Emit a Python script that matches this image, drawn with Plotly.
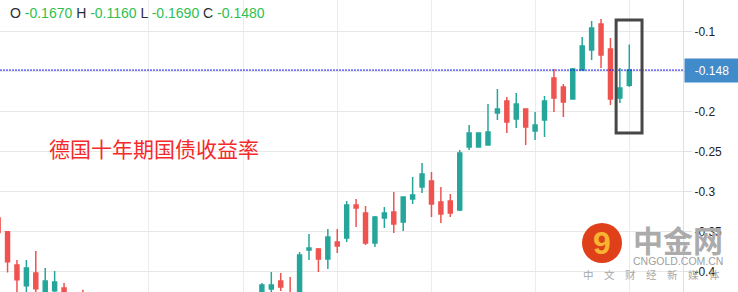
import plotly.graph_objects as go

# ---------------- data ----------------
idx = list(range(68))
opens = [-0.333, -0.350, -0.3916, -0.4175, -0.4016, -0.432, -0.4238, -0.4204, -0.436, -0.428,
         -0.440, -0.448, -0.455, -0.466, -0.458, -0.476, -0.485, -0.478, -0.496, -0.490,
         -0.480, -0.486, -0.472, -0.462, -0.470, -0.452, -0.445, -0.450,
         -0.436, -0.4216, -0.4116, -0.428, -0.435, -0.3729, -0.3716, -0.3841, -0.3629, -0.3579,
         -0.3166, -0.3266, -0.3641, -0.3329, -0.3254, -0.3379, -0.3091, -0.2941, -0.2866, -0.3129,
         -0.3116, -0.3229, -0.2441, -0.2441, -0.2416, -0.2016, -0.1866, -0.2091, -0.1966, -0.2241,
         -0.2104, -0.1579, -0.1691, -0.1841, -0.1479, -0.1229, -0.0904, -0.1216, -0.1829, -0.167]
highs = [-0.330, -0.350, -0.3854, -0.3854, -0.3741, -0.3954, -0.3991, -0.4141, -0.428, -0.4225,
         -0.432, -0.438, -0.445, -0.452, -0.450, -0.466, -0.470, -0.468, -0.484, -0.476,
         -0.470, -0.468, -0.458, -0.452, -0.448, -0.440, -0.436, -0.430,
         -0.4141, -0.4004, -0.4016, -0.4066, -0.3754, -0.3529, -0.3704, -0.3466, -0.3466, -0.3116,
         -0.3091, -0.3179, -0.3304, -0.3191, -0.3004, -0.3066, -0.2816, -0.2641, -0.2754, -0.2941,
         -0.3029, -0.2479, -0.2166, -0.2266, -0.1904, -0.1716, -0.1816, -0.1766, -0.1966, -0.2004,
         -0.1804, -0.1466, -0.1654, -0.1454, -0.1066, -0.0866, -0.0841, -0.1079, -0.1454, -0.116]
lows = [-0.356, -0.401, -0.432, -0.432, -0.426, -0.440, -0.430, -0.440, -0.446, -0.450,
        -0.452, -0.460, -0.470, -0.474, -0.480, -0.490, -0.494, -0.500, -0.508, -0.498,
        -0.492, -0.490, -0.480, -0.476, -0.472, -0.462, -0.456, -0.452,
        -0.440, -0.432, -0.4241, -0.445, -0.440, -0.3854, -0.4004, -0.3966, -0.3766, -0.3629,
        -0.3441, -0.3666, -0.3691, -0.3454, -0.3516, -0.3491, -0.3154, -0.3016, -0.3316, -0.3391,
        -0.3316, -0.3240, -0.2479, -0.2441, -0.2416, -0.2104, -0.2266, -0.2204, -0.2416, -0.2354,
        -0.2316, -0.2004, -0.2066, -0.1841, -0.1479, -0.1354, -0.1454, -0.1916, -0.1891, -0.169]
closes = [-0.351, -0.3875, -0.410, -0.3954, -0.4213, -0.4116, -0.4129, -0.435, -0.440, -0.440,
          -0.448, -0.455, -0.466, -0.458, -0.476, -0.485, -0.478, -0.496, -0.490, -0.480,
          -0.486, -0.472, -0.462, -0.470, -0.452, -0.445, -0.450, -0.436,
          -0.4166, -0.4166, -0.4191, -0.440, -0.3791, -0.3704, -0.3841, -0.3566, -0.3679, -0.3166,
          -0.3204, -0.3641, -0.3316, -0.3266, -0.3404, -0.3066, -0.3041, -0.2779, -0.3154, -0.3279,
          -0.3266, -0.2516, -0.2266, -0.2266, -0.2254, -0.1966, -0.2129, -0.1904, -0.2191, -0.2166,
          -0.1866, -0.1829, -0.1879, -0.1466, -0.1179, -0.0954, -0.1291, -0.1841, -0.1704, -0.148]

y_tickvals = [-0.1, -0.15, -0.2, -0.25, -0.3, -0.35, -0.4]
# the -0.15 label is hidden behind the last-price tag in the reference
y_ticktext = ["-0.1", "", "-0.2", "-0.25", "-0.3", "-0.35", "-0.4"]
x_gridvals = [16, 26, 36, 46, 57, 67]
title_text = "德国十年期国债收益率"

GREEN = "#26a69a"
RED = "#ef5350"

fig = go.Figure()
fig.add_trace(go.Candlestick(
    x=idx, open=opens, high=highs, low=lows, close=closes,
    increasing=dict(line=dict(color=GREEN, width=1.5), fillcolor=GREEN),
    decreasing=dict(line=dict(color=RED, width=1.5), fillcolor=RED),
    whiskerwidth=0, showlegend=False, hoverinfo="skip",
))

last_o, last_h, last_l, last_c = opens[-1], highs[-1], lows[-1], closes[-1]

fig.update_layout(
    width=738, height=292,
    margin=dict(l=0, r=55, t=0, b=0),
    paper_bgcolor="white", plot_bgcolor="white",
    boxgap=0.4,
    font=dict(family="Liberation Sans, Arial", size=12, color="#333"),
    xaxis=dict(range=[0.2, 72.7], rangeslider=dict(visible=False), showticklabels=False,
               tickvals=x_gridvals, showgrid=True, gridcolor="#ececec", gridwidth=1,
               zeroline=False, ticks="", showline=False, fixedrange=True),
    yaxis=dict(side="right", range=[-0.4254, -0.0604], tickvals=y_tickvals, ticktext=y_ticktext,
               showgrid=True, gridcolor="#e8e8e8", gridwidth=1, zeroline=False,
               ticks="outside", ticklen=8, tickcolor="#e0e0e0",
               showline=True, linecolor="#e0e0e0", linewidth=1,
               tickfont=dict(family="Liberation Sans, Arial", size=12, color="#222")),
)

# last-price dotted line
fig.add_shape(type="line", xref="paper", x0=0, x1=1, yref="y", y0=last_c, y1=last_c,
              line=dict(color="#1515f0", width=1, dash="2px,1px"), layer="above")

# highlight box around the last two candles
fig.add_shape(type="rect", xref="x", yref="y", x0=idx[-2] - 0.4, x1=idx[-1] + 1.35,
              y0=-0.2266, y1=-0.0854, line=dict(color="#474747", width=3), layer="above")

# price label on axis
fig.add_annotation(xref="paper", x=1, xanchor="left", xshift=1, yref="y", y=last_c,
                   text=f"{last_c:.3f}", showarrow=False, bgcolor="#428bca",
                   width=50, height=19, borderpad=2, align="center",
                   font=dict(family="Liberation Sans, Arial", size=12, color="white"))

# OHLC header
lab = "#2a2e39"
val = "#2fbf4f"
header = (f"<span style='color:{lab}'>O</span> {last_o:.4f} "
          f"<span style='color:{lab}'>H</span> {last_h:.4f} "
          f"<span style='color:{lab}'>L</span> {last_l:.4f} "
          f"<span style='color:{lab}'>C</span> {last_c:.4f}")
fig.add_annotation(xref="paper", yref="paper", x=8 / 683, y=1 - 12.5 / 292,
                   xanchor="left", yanchor="middle", text=header, showarrow=False,
                   font=dict(family="Liberation Sans, Arial", size=14, color=val))

# chart title
fig.add_annotation(xref="paper", yref="paper", x=47 / 683, y=1 - 148 / 292,
                   xanchor="left", yanchor="middle", text=title_text, showarrow=False,
                   font=dict(family="Noto Sans CJK SC", size=21, color="#f52a2a"))

# watermark logo
fig.add_shape(type="circle", xref="paper", yref="paper",
              x0=582 / 683, x1=622 / 683, y0=1 - 263 / 292, y1=1 - 223 / 292,
              fillcolor="#df4019", line=dict(width=0), layer="above")
fig.add_annotation(xref="paper", yref="paper", x=602 / 683, y=1 - 243 / 292,
                   text="<b>9</b>", showarrow=False, xanchor="center", yanchor="middle",
                   font=dict(family="Liberation Sans", size=32, color="#f7b431"))
fig.add_annotation(xref="paper", yref="paper", x=678 / 683, y=1 - 239 / 292,
                   text="中金网", showarrow=False, xanchor="center", yanchor="middle",
                   font=dict(family="Noto Sans CJK SC", size=30, color="#ababab", weight="bold"))
fig.add_annotation(xref="paper", yref="paper", x=678 / 683, y=1 - 261 / 292,
                   text="CNGOLD.COM.CN", showarrow=False, xanchor="center", yanchor="middle",
                   font=dict(family="Liberation Sans, Arial", size=10.5, color="#a0a0a0"))
fig.add_annotation(xref="paper", yref="paper", x=651.5 / 683, y=1 - 274 / 292,
                   text="中\u3000文\u3000财\u3000经\u3000新\u3000媒\u3000体", showarrow=False,
                   xanchor="center", yanchor="middle",
                   font=dict(family="Noto Sans CJK SC", size=10.5, color="#a8a8a8"))

fig.write_html("out.html")
